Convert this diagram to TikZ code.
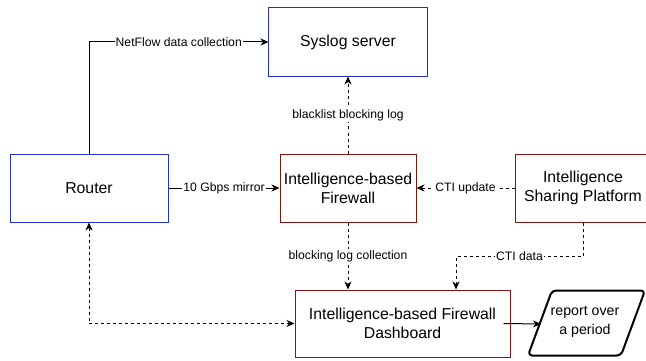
\documentclass[tikz,border=0pt]{standalone}
\usepackage{fontspec}
\setmainfont{Liberation Sans}
\usetikzlibrary{arrows.meta}
\definecolor{boxblue}{RGB}{36,48,210}
\definecolor{boxred}{RGB}{130,20,20}
\tikzset{
  box/.style={line width=1pt, fill=white, align=center,
    font=\fontsize{15.8}{19}\selectfont, inner sep=0pt},
  bluebox/.style={box, draw=boxblue},
  redbox/.style={box, draw=boxred},
  lbl/.style={fill=white, font=\fontsize{12.2}{14}\selectfont, inner sep=1pt},
  tip/.style={-{Stealth[length=8pt,width=7pt,inset=2.5pt]}},
  tips/.style={{Stealth[length=8pt,width=7pt,inset=2.5pt]}-{Stealth[length=8pt,width=7pt,inset=2.5pt]}},
  link/.style={line width=1pt, black},
  dlink/.style={link, dash pattern=on 3pt off 3pt},
}
\begin{document}
\begin{tikzpicture}[x=1pt, y=-1pt]
% white page background
\fill[white] (0,0) rectangle (646,361);
\useasboundingbox (0,0) rectangle (646,361);

% boxes
\node[bluebox, minimum width=158pt, minimum height=68pt] (rtr) at (89,188) {Router};
\node[redbox, minimum width=136pt, minimum height=68pt] (fw) at (348,188) {Intelligence-based\\Firewall};
\node[redbox, minimum width=136pt, minimum height=68pt] (isp) at (583,188) {Intelligence\\Sharing Platform};
\node[redbox, minimum width=215pt, minimum height=67pt] (dash) at (402.5,323.5) {Intelligence-based Firewall\\Dashboard};
\node[box, minimum width=158pt, minimum height=68pt] (syslog) at (348,42) {Syslog server};
\draw[boxblue, line width=1pt] (syslog.south west) rectangle (syslog.north east);

% report parallelogram
\draw[line width=2pt, rounded corners=4pt, line join=round]
  (552,290.5) -- (645,290.5) -- (621,355.5) -- (528,355.5) -- cycle;
\node[align=center, font=\fontsize{14.2}{19}\selectfont, inner sep=0pt] (rep) at (585,322) {report over\\a period};
\coordinate (repin) at (541,324);

% connectors
\draw[link, tip] (rtr.north) |- coordinate[pos=0.75] (nf) (syslog.west);
\node[lbl] at (nf) {NetFlow data collection};

\draw[link, tip] (rtr.east) -- node[lbl] {10 Gbps mirror} (fw.west);

\draw[dlink, tip] (fw.north) -- node[lbl] {blacklist blocking log} (syslog.south);

\draw[dlink, tip] (isp.west) -- node[lbl] {CTI update} (fw.east);

\draw[dlink, tip] (fw.south) -- node[lbl] {blocking log collection} (fw.south |- dash.north);

\coordinate (ctia) at (583,256);
\coordinate (ctib) at (456,256);
\draw[dlink, tip] (isp.south) -- (ctia) -- node[lbl] {CTI data} (ctib) -- (ctib |- dash.north);

\draw[dlink, tips] (rtr.south) |- (dash.west);

\draw[link, tip] ([xshift=-7pt]dash.east) -- (repin);
\end{tikzpicture}
\end{document}
